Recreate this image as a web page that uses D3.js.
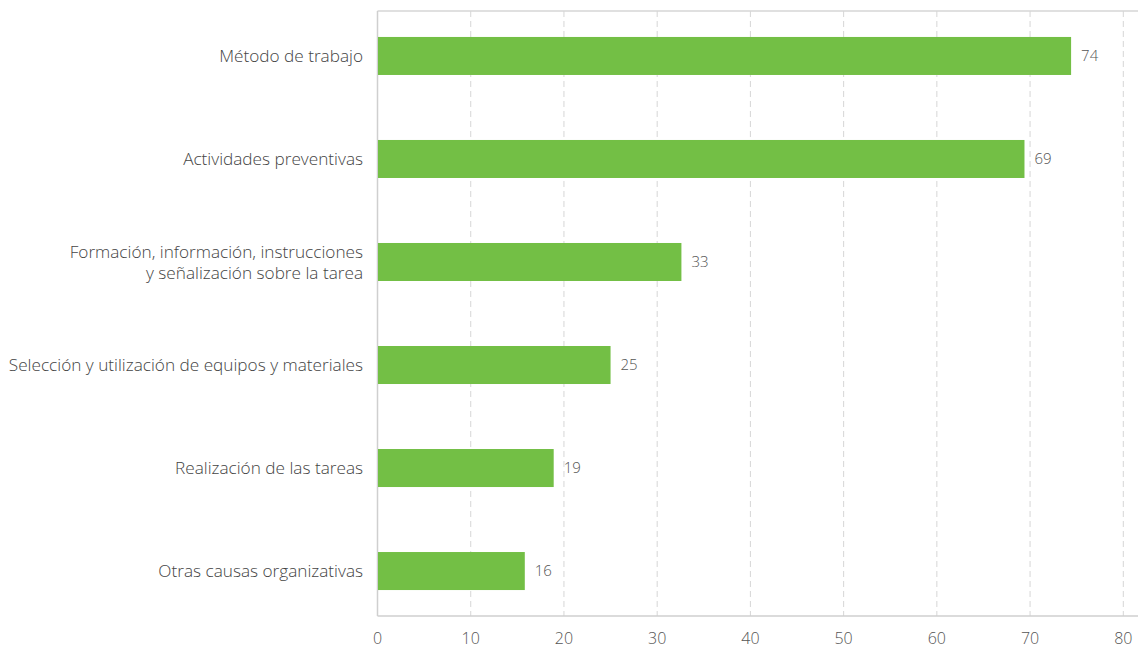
<!DOCTYPE html>
<html><head><meta charset="utf-8">
<script src="https://cdn.jsdelivr.net/npm/d3@7"></script>
<style>body{margin:0;background:#fff;} svg{display:block;}</style>
</head><body>
<svg id="chart" width="1138" height="649"></svg>
<script>
const categories = [
  ["Método de trabajo"],
  ["Actividades preventivas"],
  ["Formación, información, instrucciones", "y señalización sobre la tarea"],
  ["Selección y utilización de equipos y materiales"],
  ["Realización de las tareas"],
  ["Otras causas organizativas"]
];
const values = [74.4, 69.4, 32.6, 25.0, 18.9, 15.8];
const xTicks = [0, 10, 20, 30, 40, 50, 60, 70, 80];

(function () {
const svg = d3.select("#chart");
const pL = 377.5, pR = 1138, pT = 11, pB = 616;
const x = d3.scaleLinear().domain([0, 80]).range([pL, 1123.3]);
const y = d3.scaleBand().domain(d3.range(categories.length)).range([pT, pB])
  .paddingInner(0.631).paddingOuter(0.252);
const font = "'Open Sans', sans-serif";

// grid lines
svg.append("g").selectAll("line").data(xTicks.filter(d => d > 0)).join("line")
  .attr("x1", d => x(d)).attr("x2", d => x(d))
  .attr("y1", pT).attr("y2", pB)
  .attr("stroke", "#d6d6d6").attr("stroke-width", 1).attr("stroke-dasharray", "6,4");

// frame lines
svg.append("line").attr("x1", pL).attr("x2", pR).attr("y1", pT).attr("y2", pT)
  .attr("stroke", "#d6d6d6").attr("stroke-width", 1.5);
svg.append("line").attr("x1", pL).attr("x2", pR).attr("y1", pB).attr("y2", pB)
  .attr("stroke", "#cfcfcf").attr("stroke-width", 1.5);
svg.append("line").attr("x1", pL).attr("x2", pL).attr("y1", pT).attr("y2", pB)
  .attr("stroke", "#cfcfcf").attr("stroke-width", 1.5);

// bars
svg.append("g").selectAll("rect").data(values).join("rect")
  .attr("x", x(0) + 0.5).attr("y", (d, i) => y(i))
  .attr("width", d => x(d) - x(0) - 0.5).attr("height", y.bandwidth())
  .attr("fill", "#73bf45");

// value labels
svg.append("g").selectAll("text").data(values).join("text")
  .attr("x", d => x(d) + 10).attr("y", (d, i) => y(i) + y.bandwidth() / 2)
  .attr("dy", "0.35em").attr("font-family", font).attr("font-size", 15).attr("font-weight", 300)
  .attr("fill", "#555").text(d => d3.format(".0f")(d));

// category labels
const cg = svg.append("g");
categories.forEach((lines, i) => {
  const cy = y(i) + y.bandwidth() / 2;
  const t = cg.append("text").attr("x", 363).attr("text-anchor", "end")
    .attr("font-family", font).attr("font-size", 17.2).attr("font-weight", 300).attr("fill", "#444");
  const lh = 21;
  lines.forEach((s, j) => {
    t.append("tspan").attr("x", 363)
      .attr("y", cy + (j - (lines.length - 1) / 2) * lh).attr("dy", "0.35em").text(s);
  });
});

// x tick labels
svg.append("g").selectAll("text").data(xTicks).join("text")
  .attr("x", d => x(d)).attr("y", 638).attr("dy", "0.35em").attr("text-anchor", "middle")
  .attr("font-family", font).attr("font-size", 16).attr("font-weight", 300).attr("fill", "#555").text(d => d);
})();
</script>
</body></html>
